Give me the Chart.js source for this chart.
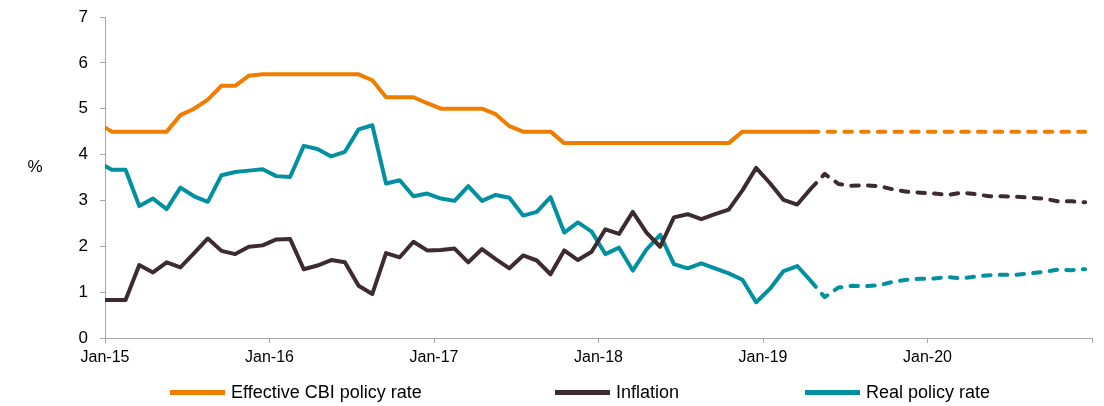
<!DOCTYPE html>
<html>
<head>
<meta charset="utf-8">
<script src="https://cdn.jsdelivr.net/npm/chart.js@4.4.1/dist/chart.umd.min.js"></script>
<style>
  html, body { margin: 0; padding: 0; background: #fff; }
  #wrap { position: relative; width: 1104px; height: 406px; }
  #legend { position: absolute; left: 0; top: 382px; width: 1104px; height: 20px;
            font: 18px "Liberation Sans", Arial, sans-serif; color: #000; }
  .item { position: absolute; top: 0; height: 20px; display: flex; align-items: center; white-space: nowrap; }
  .swatch { width: 55px; height: 5px; margin-right: 6px; }
</style>
</head>
<body>
<div id="wrap">
  <canvas id="chart" width="1104" height="406"></canvas>
  <div id="legend"></div>
</div>
<script>
// monthly, Dec-14 .. Dec-20 (first point sits just left of the axis and is clipped)
const firstYear = 2014, firstMonth = 11;
const months = [];
for (let k = 0; k < 73; k++) {
    const d = new Date(firstYear, firstMonth + k, 1);
    months.push(d.toLocaleString('en-US', { month: 'short' }) + '-' + String(d.getFullYear()).slice(2));
}
const tickLabels = ['Jan-15', 'Jan-16', 'Jan-17', 'Jan-18', 'Jan-19', 'Jan-20', ''];
const lastActual = 'Apr-19';

const policyRate = [
    4.68,
    4.5, 4.5, 4.5, 4.5, 4.5, 4.86, 5.0, 5.2, 5.5, 5.5, 5.72, 5.75,
    5.75, 5.75, 5.75, 5.75, 5.75, 5.75, 5.75, 5.62, 5.25, 5.25, 5.25, 5.12,
    5.0, 5.0, 5.0, 5.0, 4.88, 4.62, 4.5, 4.5, 4.5, 4.25, 4.25, 4.25,
    4.25, 4.25, 4.25, 4.25, 4.25, 4.25, 4.25, 4.25, 4.25, 4.25, 4.5, 4.5,
    4.5, 4.5, 4.5, 4.5, 4.5, 4.5, 4.5, 4.5, 4.5, 4.5, 4.5, 4.5,
    4.5, 4.5, 4.5, 4.5, 4.5, 4.5, 4.5, 4.5, 4.5, 4.5, 4.5, 4.5
];
const inflation = [
    0.83,
    0.83, 0.83, 1.59, 1.43, 1.65, 1.54, 1.85, 2.17, 1.90, 1.83, 1.99, 2.02,
    2.15, 2.16, 1.50, 1.58, 1.70, 1.65, 1.14, 0.96, 1.85, 1.76, 2.10, 1.91,
    1.92, 1.95, 1.65, 1.94, 1.72, 1.52, 1.80, 1.69, 1.39, 1.91, 1.70, 1.88,
    2.37, 2.27, 2.75, 2.30, 1.99, 2.63, 2.70, 2.59, 2.70, 2.80, 3.22, 3.71,
    3.38, 3.01, 2.91, 3.26, 3.58, 3.36, 3.32, 3.33, 3.31, 3.24, 3.19, 3.17,
    3.15, 3.12, 3.17, 3.14, 3.09, 3.09, 3.08, 3.06, 3.04, 2.98, 2.98, 2.96
];
const realRate = [
    3.83,
    3.67, 3.67, 2.88, 3.04, 2.81, 3.28, 3.09, 2.97, 3.55, 3.62, 3.65, 3.68,
    3.53, 3.51, 4.19, 4.12, 3.96, 4.06, 4.55, 4.64, 3.37, 3.44, 3.09, 3.15,
    3.04, 2.99, 3.31, 2.99, 3.12, 3.06, 2.67, 2.75, 3.07, 2.30, 2.52, 2.32,
    1.83, 1.97, 1.47, 1.93, 2.25, 1.61, 1.52, 1.63, 1.52, 1.41, 1.27, 0.78,
    1.07, 1.46, 1.57, 1.24, 0.89, 1.10, 1.14, 1.13, 1.15, 1.23, 1.27, 1.29,
    1.30, 1.33, 1.30, 1.34, 1.37, 1.38, 1.38, 1.41, 1.44, 1.49, 1.48, 1.50
];

const seriesNames = ['Effective CBI policy rate', 'Inflation', 'Real policy rate'];
const seriesColors = ['#ee7d00', '#3d2b31', '#0090a0'];
const legendLeft = [170, 555, 805];

const FONT = '"Liberation Sans", Arial, sans-serif';
const AXIS = '#a6a6a6';
const forecastFrom = months.indexOf(lastActual);

// x value = months from Jan-15, points centred in their month
const toPoints = arr => arr.map((v, i) => ({ x: i - 0.5, y: v }));

const makeSet = (name, data, color) => ({
    label: name,
    data: toPoints(data),
    borderColor: color,
    backgroundColor: color,
    borderWidth: 4,
    borderJoinStyle: 'round',
    pointRadius: 0,
    tension: 0,
    segment: {
        borderDash: ctx => ctx.p0DataIndex >= forecastFrom ? [7.5, 9.2] : undefined,
        borderCapStyle: ctx => ctx.p0DataIndex >= forecastFrom ? 'round' : 'butt'
    }
});

const pctTitle = {
    id: 'pctTitle',
    afterDraw(chart) {
        const { ctx, chartArea } = chart;
        ctx.save();
        ctx.font = '17px ' + FONT;
        ctx.fillStyle = '#000';
        ctx.textAlign = 'center';
        ctx.textBaseline = 'middle';
        ctx.fillText('%', 35, chartArea.top + 150);
        ctx.restore();
    }
};

new Chart(document.getElementById('chart').getContext('2d'), {
    type: 'line',
    data: {
        datasets: [
            makeSet(seriesNames[0], policyRate, seriesColors[0]),
            makeSet(seriesNames[1], inflation, seriesColors[1]),
            makeSet(seriesNames[2], realRate, seriesColors[2])
        ]
    },
    options: {
        responsive: false,
        devicePixelRatio: 1,
        animation: false,
        layout: { padding: { top: 17, right: 12, bottom: 40, left: 0 } },
        plugins: { legend: { display: false }, tooltip: { enabled: false } },
        scales: {
            x: {
                type: 'linear', min: 0, max: 72,
                afterFit: s => { s.height = 28; s.paddingLeft = 0; s.paddingRight = 0; },
                grid: { drawOnChartArea: false, drawTicks: true, tickLength: 5, color: AXIS },
                border: { color: AXIS, width: 1 },
                ticks: {
                    stepSize: 12, autoSkip: false, maxRotation: 0, padding: 5,
                    color: '#000', font: { family: FONT, size: 16 },
                    callback: v => tickLabels[v / 12] ?? ''
                }
            },
            y: {
                min: 0, max: 7,
                afterFit: s => { s.width = 105; s.paddingTop = 0; s.paddingBottom = 0; },
                grid: { drawOnChartArea: false, drawTicks: true, tickLength: 5, color: AXIS },
                border: { color: AXIS, width: 1 },
                ticks: { stepSize: 1, padding: 12, color: '#000', font: { family: FONT, size: 17 } }
            }
        }
    },
    plugins: [pctTitle]
});

// legend below the plot
const legendNode = document.getElementById('legend');
seriesNames.forEach((name, i) => {
    const item = document.createElement('div');
    item.className = 'item';
    item.style.left = legendLeft[i] + 'px';
    item.innerHTML = '<span class="swatch" style="background:' + seriesColors[i] + '"></span>' + name;
    legendNode.appendChild(item);
});
</script>
</body>
</html>
